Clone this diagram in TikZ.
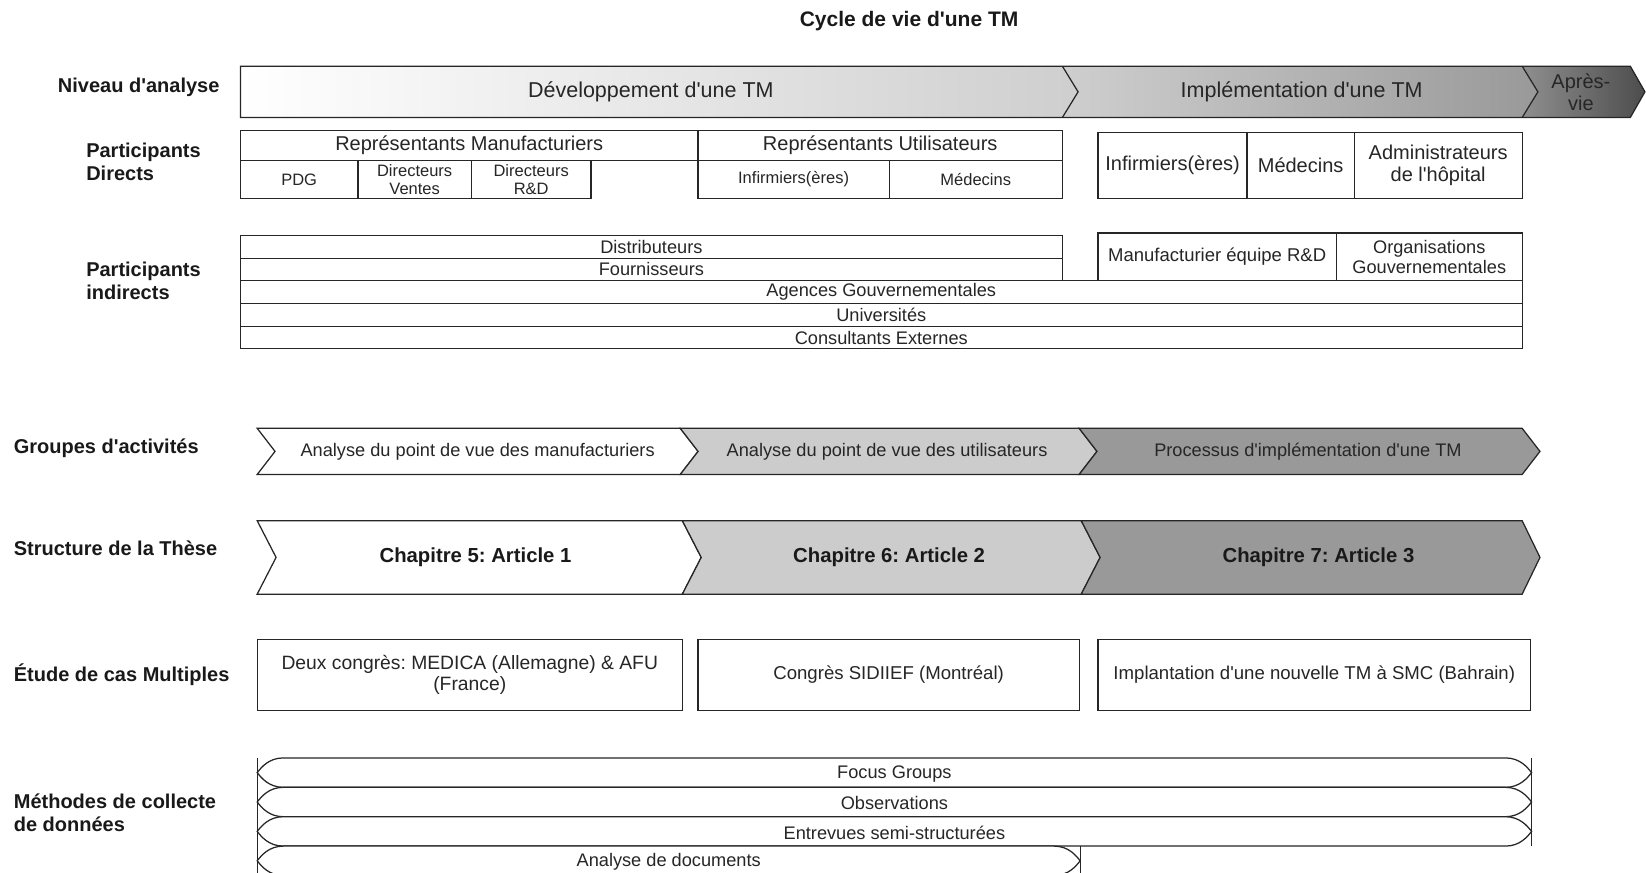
\documentclass[tikz,border=0pt]{standalone}
\usepackage{fontspec}
\setmainfont{Liberation Sans}
\frenchspacing
\newcommand\ap{\textquotesingle}
% rectangle with a centred text node
\newcommand\cellbox[7]{%
  \draw[edge,fill=white] (#1,#2) rectangle (#3,#4);
  \node[#6] (#5) at ({(#1+#3)/2},{(#2+#4)/2}) {#7};}
\begin{document}
\begin{tikzpicture}[x=1.0497pt, y=-1.0497pt,
  edge/.style={draw=black!85, line width=1.25pt, line join=miter},
  lbl/.style={font=\fontsize{20}{23}\selectfont\bfseries, anchor=west, align=left, inner sep=0pt, text=black!90},
  big/.style={font=\fontsize{21.5}{23}\selectfont, inner sep=0pt, align=center, text=black!85},
  mid/.style={font=\fontsize{20}{22}\selectfont, inner sep=0pt, align=center, text=black!85},
  sml/.style={font=\fontsize{18.2}{20}\selectfont, inner sep=0pt, align=center, text=black!85},
  tny/.style={font=\fontsize{16.5}{18}\selectfont, inner sep=0pt, align=center, text=black!85},
  chap/.style={font=\fontsize{20.3}{22}\selectfont\bfseries, inner sep=0pt, text=black!90},
]
\useasboundingbox (0,0) rectangle (1568,831);

% title
\node[font=\fontsize{21}{24}\selectfont\bfseries, text=black!90] (title) at (866,20) {Cycle de vie d\ap{}une TM};

% row labels
\node[lbl] (lniv) at (55,83) {Niveau d\ap{}analyse};
\node[lbl] (ldir) at (82,154) {Participants\\Directs};
\node[lbl] (lind) at (82,267.5) {Participants\\indirects};
\node[lbl] (lgrp) at (13,427) {Groupes d\ap{}activités};
\node[lbl] (lstr) at (13,522) {Structure de la Thèse};
\node[lbl] (letu) at (13,643) {Étude de cas Multiples};
\node[lbl] (lmet) at (13,774.5) {Méthodes de collecte\\de données};

% ---- level of analysis: shaded chevron banner
\shade[left color=white, right color=black!19]
  (229,63) -- (1012,63) -- (1027,87.5) -- (1012,112) -- (229,112) -- cycle;
\shade[left color=black!19, right color=black!40]
  (1012,63) -- (1450,63) -- (1465,87.5) -- (1450,112) -- (1012,112) -- (1027,87.5) -- cycle;
\shade[left color=black!44, right color=black!70]
  (1450,63) -- (1553,63) -- (1567,87.5) -- (1553,112) -- (1450,112) -- (1465,87.5) -- cycle;
\draw[edge] (229,63) -- (1553,63) -- (1567,87.5) -- (1553,112) -- (229,112) -- cycle;
\draw[edge] (1012,63) -- (1027,87.5) -- (1012,112);
\draw[edge] (1450,63) -- (1465,87.5) -- (1450,112);
\node[big] (dev) at (620,87.5) {Développement d\ap{}une TM};
\node[big] (imp) at (1240,87.5) {Implémentation d\ap{}une TM};
\node[big, font=\fontsize{20}{22}\selectfont] (apr) at (1506,88) {Après-\\vie};

% ---- direct participants
\cellbox{229}{124}{665}{153}{rman}{mid}{Représentants Manufacturiers}
\cellbox{665}{124}{1012}{153}{rutil}{mid}{Représentants Utilisateurs}
\cellbox{229}{153}{341}{189}{pdg}{tny}{PDG}
\cellbox{341}{153}{449}{189}{dven}{tny}{Directeurs\\Ventes}
\cellbox{449}{153}{563}{189}{drd}{tny}{Directeurs\\R\&D}
\cellbox{665}{153}{847}{189}{inf}{tny}{Infirmiers(ères)}
\cellbox{847}{153}{1012}{189}{med}{tny}{Médecins}
\cellbox{1046}{126}{1188}{189}{inf2}{mid}{Infirmiers(ères)}
\cellbox{1188}{126}{1290}{189}{med2}{mid}{Médecins}
\cellbox{1290}{126}{1450}{189}{adm}{mid}{Administrateurs\\de l\ap{}hôpital}

% ---- indirect participants
\cellbox{229}{224}{1012}{246}{dist}{sml}{Distributeurs}
\cellbox{229}{246}{1012}{267}{four}{sml}{Fournisseurs}
\cellbox{1046}{222}{1273}{267}{mrd}{sml, font=\fontsize{18.5}{20}\selectfont}{Manufacturier équipe R\&D}
\cellbox{1273}{222}{1450}{267}{org}{sml}{Organisations\\Gouvernementales}
\cellbox{229}{267}{1450}{289}{agc}{sml}{Agences Gouvernementales}
\cellbox{229}{289}{1450}{311}{univ}{sml}{Universités}
\cellbox{229}{311}{1450}{332}{cons}{sml}{Consultants Externes}

% ---- activity groups
\draw[edge, fill=white] (245,408) -- (648,408) -- (665,430) -- (648,452) -- (245,452) -- (262,430) -- cycle;
\draw[edge, fill=black!20] (648,408) -- (1028,408) -- (1045,430) -- (1028,452) -- (648,452) -- (665,430) -- cycle;
\draw[edge, fill=black!40] (1028,408) -- (1450,408) -- (1467,430) -- (1450,452) -- (1028,452) -- (1045,430) -- cycle;
\node[sml] (ga1) at (455,430) {Analyse du point de vue des manufacturiers};
\node[sml] (ga2) at (845,430) {Analyse du point de vue des utilisateurs};
\node[sml] (ga3) at (1246,430) {Processus d\ap{}implémentation d\ap{}une TM};

% ---- thesis structure
\draw[edge, fill=white] (245,496) -- (650,496) -- (668,531) -- (650,566) -- (245,566) -- (263,531) -- cycle;
\draw[edge, fill=black!20] (650,496) -- (1030,496) -- (1048,531) -- (1030,566) -- (650,566) -- (668,531) -- cycle;
\draw[edge, fill=black!40] (1030,496) -- (1450,496) -- (1467,531) -- (1450,566) -- (1030,566) -- (1048,531) -- cycle;
\node[chap] (ch5) at (453,531) {Chapitre 5: Article 1};
\node[chap] (ch6) at (847,531) {Chapitre 6: Article 2};
\node[chap] (ch7) at (1256,531) {Chapitre 7: Article 3};

% ---- multiple case study
\cellbox{245}{609}{650}{677}{cas1}{sml, font=\fontsize{19.3}{21}\selectfont}{Deux congrès: MEDICA (Allemagne) \& AFU\\(France)}
\cellbox{665}{609}{1028}{677}{cas2}{sml, font=\fontsize{18.6}{20}\selectfont}{Congrès SIDIIEF (Montréal)}
\cellbox{1046}{609}{1458}{677}{cas3}{sml, font=\fontsize{18.6}{20}\selectfont}{Implantation d\ap{}une nouvelle TM à SMC (Bahrain)}

% ---- data collection methods: bands with pointed elliptic ends
\foreach \t/\r/\nm/\lab in {722/1459/fg/Focus Groups, 750/1459/obs/Observations,
    778/1459/ent/Entrevues semi-structurées, 806/1029/doc/Analyse de documents}{
  \pgfmathsetmacro\b{\t+28}
  \pgfmathsetmacro\m{\t+14}
  \draw[edge, fill=white]
    (270,\t) -- ({\r-25},\t)
    .. controls ({\r-11},\t) and ({\r-4},{\m-5}) .. (\r,\m)
    .. controls ({\r-4},{\m+5}) and ({\r-11},\b) .. ({\r-25},\b)
    -- (270,\b)
    .. controls (256,\b) and (249,{\m+5}) .. (245,\m)
    .. controls (249,{\m-5}) and (256,\t) .. (270,\t) -- cycle;
  \node[sml] (\nm) at ({(245+\r)/2},{\m+1}) {\lab};
}
\draw[edge] (245,722) -- (245,834);
\draw[edge] (1459,722) -- (1459,806);
\draw[edge] (1029,806) -- (1029,834);

\end{tikzpicture}
\end{document}
